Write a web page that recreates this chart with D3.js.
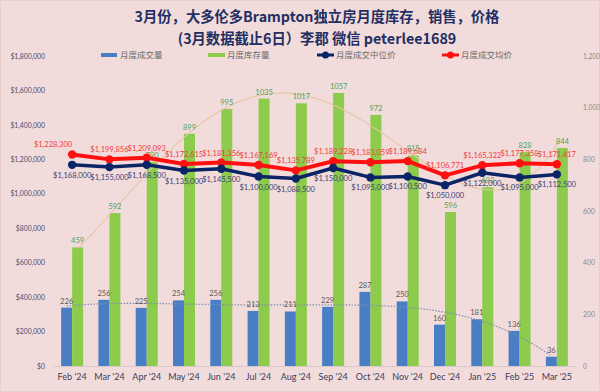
<!DOCTYPE html>
<html><head><meta charset="utf-8">
<script src="https://cdn.jsdelivr.net/npm/d3@7"></script>
<style>
html,body{margin:0;padding:0;background:#F2DCDB;}
svg{display:block;}
</style></head>
<body>
<svg id="chart" width="600" height="392"></svg>
<script>
const months = ["Feb '24","Mar '24","Apr '24","May '24","Jun '24","Jul '24","Aug '24","Sep '24","Oct '24","Nov '24","Dec '24","Jan '25","Feb '25","Mar '25"];
const sales = [226,256,225,254,256,213,211,229,287,250,160,181,136,36];
const inventory = [459,592,790,899,995,1035,1017,1057,972,815,596,692,828,844];
const medianPrice = [1168000,1155000,1168500,1135000,1145500,1100000,1088500,1150000,1095000,1100500,1050000,1122000,1095000,1112500];
const avgPrice = [1228300,1199856,1209093,1172615,1181356,1167169,1135789,1189228,1183059,1189684,1106771,1165322,1177358,1171417];
const leftTicks = [0,200000,400000,600000,800000,1000000,1200000,1400000,1600000,1800000];
const rightTicks = [0,200,400,600,800,1000,1200];
const legendNames = ["月度成交量","月度库存量","月度成交中位价","月度成交均价"];
const title1 = "3月份，大多伦多Brampton独立房月度库存，销售，价格";
const title2 = "(3月数据截止6日）李郡  微信 peterlee1689";

const C = {blue:"#4A7EC4", green:"#8CCB4C", navy:"#0B2466", red:"#FF1010"};
const svg = d3.select("#chart");
const W=600,H=392;
svg.append("rect").attr("x",0.5).attr("y",0.5).attr("width",W-1).attr("height",H-1)
  .attr("fill","#F2DCDB").attr("stroke","#E8CFCE");

const x = d3.scaleBand().domain(months).range([53.5,575.5]).padding(0);
const yL = d3.scaleLinear().domain([0,1800000]).range([366,56]);
const yR = d3.scaleLinear().domain([0,1200]).range([366,56]);
const cx = m => x(m)+x.bandwidth()/2;
const barW = 11;
const latin = "Lato, 'Noto Sans CJK SC', sans-serif";
const cjk = "'Noto Sans CJK SC', sans-serif";

// titles
svg.append("text").attr("x",317).attr("y",22).attr("text-anchor","middle")
  .attr("font-family","'Noto Sans CJK SC', sans-serif").attr("font-weight","bold").attr("font-size",14.3)
  .attr("fill","#1F2F63").text(title1);
svg.append("text").attr("x",317).attr("y",44).attr("text-anchor","middle")
  .attr("font-family","'Noto Sans CJK SC', sans-serif").attr("font-weight","bold").attr("font-size",14.3)
  .attr("fill","#1F2F63").text(title2);

// left axis
const fmt = d => "$"+d3.format(",")(d);
const gl = svg.append("g").attr("transform","translate(45,0)")
  .call(d3.axisLeft(yL).tickValues(leftTicks).tickFormat(fmt).tickSize(0).tickPadding(0));
gl.select(".domain").remove();
gl.selectAll("text").attr("font-family",latin).attr("font-size",6.8).attr("fill","#4A4F6A");
// right axis
const gr = svg.append("g").attr("transform","translate(583,0)")
  .call(d3.axisRight(yR).tickValues(rightTicks).tickSize(0).tickPadding(0));
gr.select(".domain").remove();
gr.selectAll("text").attr("font-family",latin).attr("font-size",6.8).attr("fill","#8A8A8A");

// baseline
svg.append("line").attr("x1",53.5).attr("x2",575.5).attr("y1",366.5).attr("y2",366.5)
  .attr("stroke","#D8C8C8").attr("stroke-width",1);

// x axis labels
const gx = svg.append("g").attr("transform","translate(0,370)")
  .call(d3.axisBottom(x).tickSize(0).tickPadding(4));
gx.select(".domain").remove();
gx.selectAll("text").attr("font-family",latin).attr("font-size",9).attr("fill","#3E3E58");

// bars
svg.append("g").selectAll("rect").data(sales).join("rect")
  .attr("x",(d,i)=>cx(months[i])-barW).attr("width",barW)
  .attr("y",d=>yR(d)).attr("height",d=>yR(0)-yR(d)).attr("fill",C.blue);
svg.append("g").selectAll("rect").data(inventory).join("rect")
  .attr("x",(d,i)=>cx(months[i])).attr("width",barW)
  .attr("y",d=>yR(d)).attr("height",d=>yR(0)-yR(d)).attr("fill",C.green);

// polynomial trend (least squares), x = 1..n like Excel
function polyfit(ys,deg){
  const n=ys.length, m=deg+1;
  const A=[];for(let r=0;r<m;r++){A.push(new Array(m+1).fill(0));}
  for(let i=0;i<n;i++){const xv=i+1;
    for(let r=0;r<m;r++){for(let c=0;c<m;c++)A[r][c]+=Math.pow(xv,r+c);A[r][m]+=ys[i]*Math.pow(xv,r);}}
  for(let c=0;c<m;c++){let p=c;for(let r=c+1;r<m;r++)if(Math.abs(A[r][c])>Math.abs(A[p][c]))p=r;
    [A[c],A[p]]=[A[p],A[c]];
    for(let r=0;r<m;r++){if(r===c)continue;const f=A[r][c]/A[c][c];for(let k=c;k<=m;k++)A[r][k]-=f*A[c][k];}}
  const co=A.map((row,i)=>row[m]/row[i]);
  return xv=>co.reduce((s,c,i)=>s+c*Math.pow(xv,i),0);
}
function trendPts(ys,deg,offset){
  const f=polyfit(ys,deg);const pts=[];
  for(let t=1;t<=ys.length;t+=0.05){
    const xf = x(months[0])+x.bandwidth()/2 + (t-1)*x.step() + offset;
    pts.push([xf,yR(f(t))]);
  }
  return pts;
}
const lineGen = d3.line().curve(d3.curveLinear);
svg.append("path").attr("d",lineGen(trendPts(inventory,4,barW/2)))
  .attr("fill","none").attr("stroke","#E4C6A6").attr("stroke-width",1.1);
svg.append("path").attr("d",lineGen(trendPts(sales,4,-barW/2)))
  .attr("fill","none").attr("stroke","#7F8FB0").attr("stroke-width",1.2).attr("stroke-dasharray","1.5,1.5");

// bar labels
svg.append("g").selectAll("text").data(sales).join("text")
  .attr("x",(d,i)=>cx(months[i])-barW/2).attr("y",d=>yR(d)-4).attr("text-anchor","middle")
  .attr("font-family",latin).attr("font-size",7.5).attr("fill","#5A5A5A").text(d=>d);
svg.append("g").selectAll("text").data(inventory).join("text")
  .attr("x",(d,i)=>cx(months[i])+barW/2).attr("y",d=>yR(d)-4).attr("text-anchor","middle")
  .attr("font-family",latin).attr("font-size",7.5).attr("fill","#4FA35A").text(d=>d);

// lines
const pl = d3.line().x((d,i)=>cx(months[i])).y(d=>yL(d));
svg.append("path").attr("d",pl(avgPrice)).attr("fill","none").attr("stroke",C.red).attr("stroke-width",4).attr("stroke-linejoin","round");
svg.append("g").selectAll("circle").data(avgPrice).join("circle")
  .attr("cx",(d,i)=>cx(months[i])).attr("cy",d=>yL(d)).attr("r",4.2).attr("fill",C.red);
svg.append("path").attr("d",pl(medianPrice)).attr("fill","none").attr("stroke",C.navy).attr("stroke-width",3.5).attr("stroke-linejoin","round");
svg.append("g").selectAll("circle").data(medianPrice).join("circle")
  .attr("cx",(d,i)=>cx(months[i])).attr("cy",d=>yL(d)).attr("r",4.2).attr("fill",C.navy);

// price labels
svg.append("g").selectAll("text").data(avgPrice).join("text")
  .attr("x",(d,i)=>cx(months[i])).attr("y",d=>yL(d)-7)
  .attr("text-anchor",(d,i)=>i===0?"end":"middle")
  .attr("font-family",latin).attr("font-size",7.5).attr("fill","#F03A3A").text(fmt);
svg.append("g").selectAll("text").data(medianPrice).join("text")
  .attr("x",(d,i)=>cx(months[i])).attr("y",d=>yL(d)+13).attr("text-anchor","middle")
  .attr("font-family",latin).attr("font-size",7.5).attr("fill","#3A3F72").text(fmt);

// legend
const lg = svg.append("g").attr("font-family",cjk).attr("font-size",8.5).attr("fill","#6A6A6A");
const legX = [101,208,317,442];
lg.append("rect").attr("x",legX[0]).attr("y",53).attr("width",16).attr("height",4).attr("fill",C.blue);
lg.append("rect").attr("x",legX[1]).attr("y",53).attr("width",17).attr("height",4).attr("fill",C.green);
[[2,C.navy],[3,C.red]].forEach(([k,col])=>{
  lg.append("line").attr("x1",legX[k]).attr("x2",legX[k]+17).attr("y1",55).attr("y2",55).attr("stroke",col).attr("stroke-width",3);
  lg.append("circle").attr("cx",legX[k]+8.5).attr("cy",55).attr("r",3.5).attr("fill",col);
});
legendNames.forEach((t,i)=>{
  lg.append("text").attr("x",legX[i]+19).attr("y",58).text(t);
});
</script>
</body></html>
